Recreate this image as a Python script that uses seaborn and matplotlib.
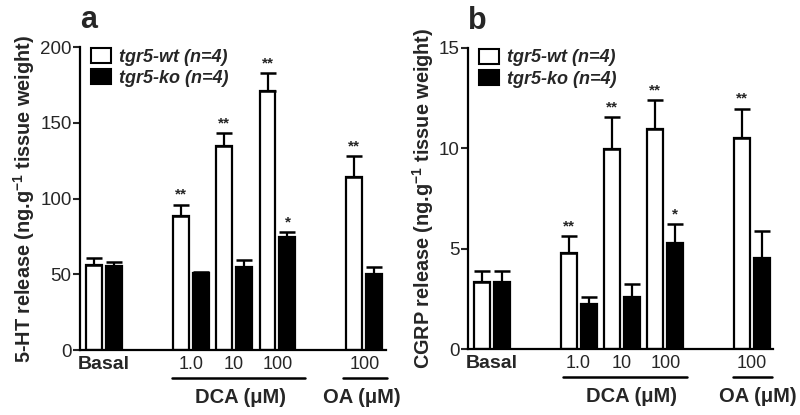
import matplotlib
matplotlib.use("Agg")
import matplotlib.pyplot as plt
import matplotlib.transforms as mtransforms
from matplotlib.patches import Patch
import seaborn as sns
import numpy as np
import pandas as pd

# ---- data ----
group_pos = [0, 2, 3, 4, 6]
tick_labels = ["Basal", "1.0", "10", "100", "100"]
genotypes = ["tgr5-wt", "tgr5-ko"]

a_wt = [56, 88.5, 135, 171, 114.5]
a_wt_err = [5, 7.5, 8, 12, 13.5]
a_ko = [55.5, 51, 55, 74.5, 50]
a_ko_err = [2.5, 0.5, 4.5, 3.5, 5]
a_wt_sig = ["", "**", "**", "**", "**"]
a_ko_sig = ["", "", "", "*", ""]

b_wt = [3.36, 4.78, 9.97, 10.94, 10.51]
b_wt_err = [0.55, 0.86, 1.6, 1.46, 1.46]
b_ko = [3.36, 2.24, 2.6, 5.3, 4.56]
b_ko_err = [0.54, 0.38, 0.63, 0.93, 1.34]
b_wt_sig = ["", "**", "**", "**", "**"]
b_ko_sig = ["", "", "", "*", ""]

sns.set_style("white")
plt.rcParams["font.family"] = ["Liberation Sans", "DejaVu Sans"]
plt.rcParams["mathtext.fontset"] = "custom"
plt.rcParams["mathtext.rm"] = "Liberation Sans"
plt.rcParams["mathtext.bf"] = "Liberation Sans:bold"

fig = plt.figure(figsize=(8, 4.15), dpi=100)
ax_a = fig.add_axes([0.100, 0.1566, 0.3825, 0.7300])
ax_b = fig.add_axes([0.585, 0.1583, 0.381, 0.7265])


def panel(ax, wt, wt_err, ko, ko_err, wt_sig, ko_sig, ymax, yticks, ylabel,
          letter, xlim, dca_line, oa_line, dca_x, oa_x, ylab_x):
    df = pd.DataFrame({
        "pos": group_pos * 2,
        "val": wt + ko,
        "geno": [genotypes[0]] * len(wt) + [genotypes[1]] * len(ko),
    })
    sns.barplot(data=df, x="pos", y="val", hue="geno", hue_order=genotypes,
                native_scale=True, width=0.92, gap=0.2,
                palette=["white", "black"], edgecolor="black", linewidth=1.6,
                errorbar=None, legend=False, ax=ax)
    bars = ax.patches
    n = len(group_pos)
    errs = wt_err + ko_err
    sigs = wt_sig + ko_sig
    xs = [p.get_x() + p.get_width() / 2 for p in bars[:2 * n]]
    ys = [p.get_height() for p in bars[:2 * n]]
    ax.errorbar(xs, ys, yerr=[np.zeros(len(errs)), errs], fmt="none",
                ecolor="black", elinewidth=1.6, capsize=6, capthick=1.8,
                zorder=3)
    for x, y, e, s in zip(xs, ys, errs, sigs):
        if s:
            ax.annotate(s, (x, y + e), xytext=(0, 2), textcoords="offset points",
                        ha="center", va="bottom", fontsize=11, fontweight="bold")
    ax.set_xlim(*xlim)
    ax.set_ylim(0, ymax)
    ax.set_yticks(yticks)
    ax.tick_params(axis="y", direction="out", length=5, width=1.5,
                   labelsize=13.5, pad=1, left=True)
    ax.set_xticks(group_pos)
    ax.set_xticklabels(tick_labels, fontsize=13)
    ax.get_xticklabels()[0].set_fontweight("bold")
    ax.get_xticklabels()[0].set_fontsize(14)
    ax.tick_params(axis="x", length=0, pad=4)
    ax.set_xlabel("")
    ax.set_ylabel(ylabel, fontsize=14.3, fontweight="bold")
    ax.yaxis.set_label_coords(ylab_x, 0.5)
    sns.despine(ax=ax)
    for sp in ("left", "bottom"):
        ax.spines[sp].set_linewidth(1.6)
        ax.spines[sp].set_color("black")
    trans = mtransforms.blended_transform_factory(ax.transData, ax.transAxes)
    for (x0, x1) in (dca_line, oa_line):
        ax.plot([x0, x1], [-0.091, -0.091], color="black", lw=1.8,
                transform=trans, clip_on=False)
    ax.text(dca_x, -0.158, "DCA (μM)", transform=trans, ha="center",
            va="center", fontsize=14.5, fontweight="bold")
    ax.text(oa_x, -0.158, "OA (μM)", transform=trans, ha="center",
            va="center", fontsize=14.5, fontweight="bold")
    handles = [Patch(facecolor="white", edgecolor="black", linewidth=1.5),
               Patch(facecolor="black", edgecolor="black", linewidth=1.5)]
    ax.legend(handles, [g + " (n=4)" for g in genotypes], loc="upper left",
              bbox_to_anchor=(0.035, 0.997), frameon=False, borderpad=0,
              borderaxespad=0, handlelength=1.1, handleheight=0.9,
              handletextpad=0.45, labelspacing=0.2,
              prop={"weight": "bold", "style": "italic", "size": 13})
    ax.text(0.0, 1.09, letter, transform=ax.transAxes, fontsize=22,
            fontweight="bold", ha="left", va="center")


panel(ax_a, a_wt, a_wt_err, a_ko, a_ko_err, a_wt_sig, a_ko_sig, 200,
      [0, 50, 100, 150, 200], "5-HT release (ng.g$^{\\mathbf{-1}}$ tissue weight)",
      "a", (-0.55, 6.5), (1.57, 4.63), (5.51, 6.53), 3.14, 5.94, -0.14)
panel(ax_b, b_wt, b_wt_err, b_ko, b_ko_err, b_wt_sig, b_ko_sig, 15,
      [0, 5, 10, 15], "CGRP release (ng.g$^{\\mathbf{-1}}$ tissue weight)",
      "b", (-0.55, 6.48), (1.64, 4.49), (5.56, 6.47), 3.22, 6.13, -0.105)

fig.savefig("out.png", dpi=100)
